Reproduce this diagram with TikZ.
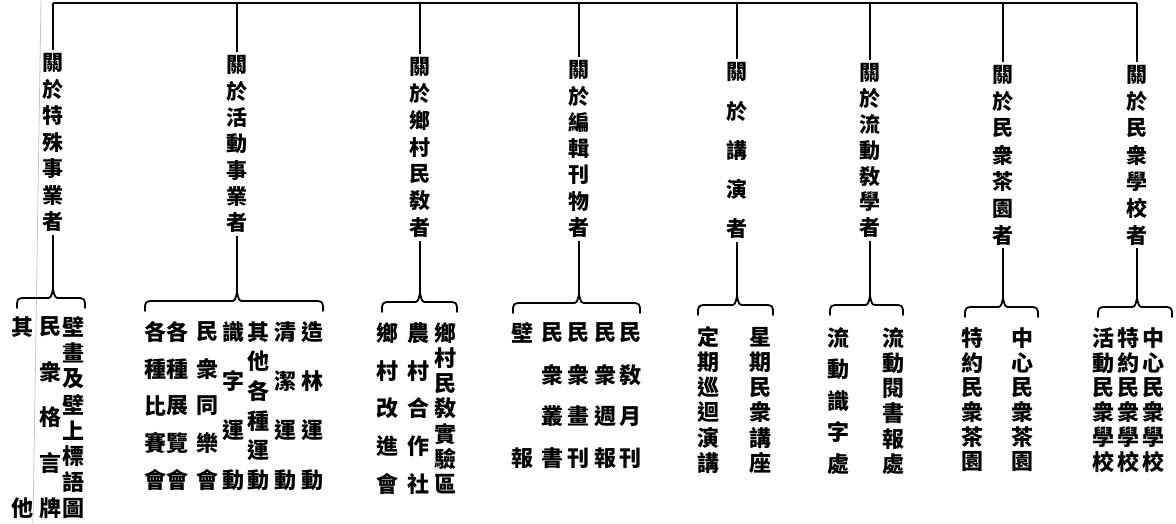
\documentclass[tikz,border=0pt]{standalone}
\usepackage{fontspec}
\newfontfamily\cjk{Noto Sans CJK TC}
\tikzset{
  zi/.style={inner sep=0pt, font=\cjk\bfseries\fontsize{22}{22}\selectfont},
  tou/.style={inner sep=0pt, font=\cjk\bfseries\fontsize{21}{21}\selectfont},
  stem/.style={line width=1.6pt},
  brace/.style={line width=1.8pt, line cap=round, line join=round}
}
\begin{document}
\begin{tikzpicture}[x=1pt,y=-1pt]
\useasboundingbox (0,0) rectangle (1176,524);
% edge of the scanned page
\draw[gray!45, line width=0.8pt] (41,0) -- (33,524);
% the eight heads, their stems and braces
\foreach \g/\x/\y/\st/\nn/\lst/\xl/\xr/\yb in {
    1/53/63/26.5/6/{關,於,特,殊,事,業,者}/17/85/298,
    2/237/65/26.3/6/{關,於,活,動,事,業,者}/145/323/301,
    3/420/67/26.8/6/{關,於,鄉,村,民,敎,者}/382/457/302,
    4/579/70/26.3/6/{關,於,編,輯,刊,物,者}/513/640/303,
    5/737/72/39.25/4/{關,於,講,演,者}/698/773/305,
    6/870/73/25.8/6/{關,於,流,動,敎,學,者}/830/903/305,
    7/1003/75/26.7/6/{關,於,民,衆,茶,園,者}/965/1038/307,
    8/1137/75/26.7/6/{關,於,民,衆,學,校,者}/1098/1172/307}
{
  \foreach \ch [count=\m from 0] in \lst
    \node[tou] (p\g-\m) at (\x,\y+\m*\st) {\ch};
  \coordinate (top\g) at (\x,3);
  \coordinate (pk\g) at (\x,\yb-9);
  \draw[stem, shorten >=3pt] (top\g) -- (p\g-0.north);
  \draw[stem, shorten <=3pt] (p\g-\nn.south) -- (pk\g);
  \draw[brace] (\xl,\yb+10) .. controls (\xl,\yb) .. (\xl+10,\yb) -- (\x-7,\yb)
    .. controls (\x-2,\yb) .. (pk\g) .. controls (\x+2,\yb) .. (\x+7,\yb)
    -- (\xr-10,\yb) .. controls (\xr,\yb) .. (\xr,\yb+10);
}
\draw[line width=2.6pt] (top1) -- (top8);
% the columns under the braces
\foreach \x/\y/\st/\lst [count=\q] in {
    22/327/181/{其,他},
    50/327/45.25/{民,衆,格,言,牌},
    73/327/25.86/{壁,畫,及,壁,上,標,語,圖},
    155/332/37/{各,種,比,賽,會},
    177/332/37/{各,種,展,覽,會},
    207/332/37/{民,衆,同,樂,會},
    233/332/49.33/{識,字,運,動},
    258/332/29.6/{其,他,各,種,運,動},
    285/332/49.33/{清,潔,運,動},
    312/332/49.33/{造,林,運,動},
    387/333/37.75/{鄉,村,改,進,會},
    418/333/37.75/{農,村,合,作,社},
    445/333/25.17/{鄉,村,民,敎,實,驗,區},
    522/333/125/{壁,報},
    552/333/41.67/{民,衆,叢,書},
    578/333/41.67/{民,衆,畫,刊},
    605/333/41.67/{民,衆,週,報},
    630/333/41.67/{民,敎,月,刊},
    708/337/25.2/{定,期,巡,迴,演,講},
    760/337/25.2/{星,期,民,衆,講,座},
    838/338/31.5/{流,動,識,字,處},
    893/338/25.2/{流,動,閱,書,報,處},
    972/338/24.8/{特,約,民,衆,茶,園},
    1022/338/24.8/{中,心,民,衆,茶,園},
    1103/338/24.8/{活,動,民,衆,學,校},
    1128/338/24.8/{特,約,民,衆,學,校},
    1153/338/24.8/{中,心,民,衆,學,校}}
{
  \foreach \ch [count=\m from 0] in \lst
    \node[zi] (c\q-\m) at (\x,\y+\m*\st) {\ch};
}
\end{tikzpicture}
\end{document}
